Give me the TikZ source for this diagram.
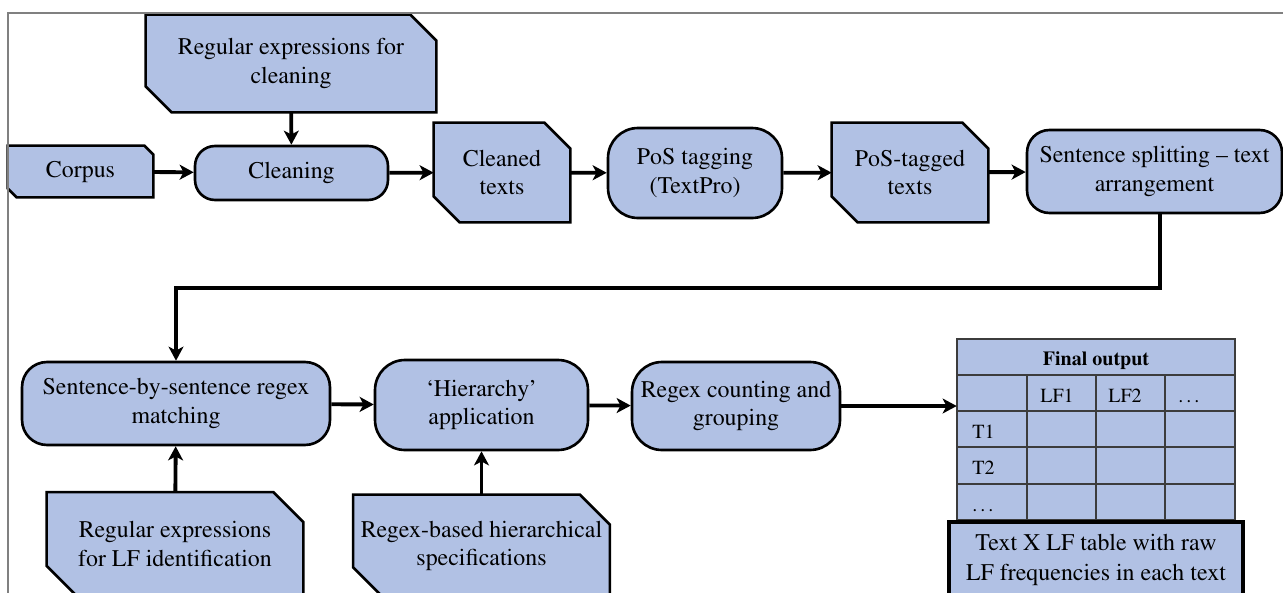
\documentclass[tikz,border=0pt]{standalone}
\usepackage[T1]{fontenc}
\usepackage{times}
\usetikzlibrary{arrows.meta,backgrounds}

\definecolor{boxblue}{RGB}{177,193,228}
\definecolor{framegray}{RGB}{128,128,128}
\definecolor{gridgray}{RGB}{60,60,60}

\tikzset{
  procbox/.style={draw, line width=1.5pt, fill=boxblue, rounded corners=#1,
    align=center, inner sep=0pt, font=\fontsize{13.6}{16.4}\selectfont},
  procbox/.default=0.55cm,
  databox/.style={align=center, inner sep=0pt, font=\fontsize{13.6}{16.4}\selectfont},
  snipline/.style={draw, line width=1.5pt, fill=boxblue, line join=miter},
  capbox/.style={draw, line width=2.2pt, fill=boxblue, align=center, inner sep=0pt,
    font=\fontsize{13.6}{16.8}\selectfont},
  cell/.style={inner sep=0pt, font=\fontsize{11.4}{13}\selectfont},
  gridline/.style={gridgray, line width=1pt},
  arr/.style={line width=2.2pt, -{Stealth[length=8pt,width=8.5pt,inset=2.2pt]}},
}

\begin{document}
\begin{tikzpicture}[x=0.02cm, y=-0.02cm]
        \useasboundingbox (0,0) rectangle (1283,592);
        \clip (0,0) rectangle (1283,592);

        % frame
        \draw[framegray, line width=1.2pt] (8,600) -- (8,13) -- (1290,13);

        % first row
        \node[databox] (regclean) at (291,63.5) [minimum width=5.8cm, minimum height=1.94cm]
            {Regular expressions for\\cleaning};
        \node[databox] (corpus) at (80.5,171.5) [minimum width=2.9cm, minimum height=1.02cm]
            {Corpus};
        \node[procbox=0.4cm] (cleaning) at (291.5,173) [minimum width=3.86cm, minimum height=1.08cm]
            {Cleaning};
        \node[databox] (cleaned) at (502,172.5) [minimum width=2.72cm, minimum height=1.98cm]
            {Cleaned\\texts};
        \node[procbox=0.6cm] (postag) at (695,173) [minimum width=3.48cm, minimum height=1.8cm]
            {PoS tagging\\(TextPro)};
        \node[databox] (postagged) at (910,172.5) [minimum width=3.12cm, minimum height=1.98cm]
            {PoS-tagged\\texts};
        \node[procbox=0.45cm] (split) at (1154.5,171.5) [minimum width=5.1cm, minimum height=1.66cm]
            {Sentence splitting -- text\\arrangement};

        % second row
        \node[procbox=0.5cm] (sbs) at (176,403.5) [minimum width=6.16cm, minimum height=1.66cm]
            {Sentence-by-sentence regex\\matching};
        \node[databox] (reglf) at (175,544) [minimum width=5.12cm, minimum height=2.06cm]
            {Regular expressions\\for LF identification};
        \node[procbox=0.6cm] (hier) at (481.5,405) [minimum width=4.26cm, minimum height=1.8cm]
            {`Hierarchy'\\application};
        \node[databox] (regspec) at (481.5,546) [minimum width=5.12cm, minimum height=2.04cm]
            {Regex-based hierarchical\\specifications};
        \node[procbox=0.6cm] (count) at (736,406) [minimum width=4.16cm, minimum height=1.76cm]
            {Regex counting and\\grouping};

        % snipped outlines of the data boxes
        \begin{scope}[on background layer]
            \foreach \n/\c in {regclean/26,corpus/9,cleaned/26,postagged/26,reglf/30,regspec/30}
                \filldraw[snipline] ([xshift=-\c*0.02cm]\n.north east) -- ([yshift=-\c*0.02cm]\n.north east)
                    -- (\n.south east) -- ([xshift=\c*0.02cm]\n.south west)
                    -- ([yshift=\c*0.02cm]\n.south west) -- (\n.north west) -- cycle;
        \end{scope}

        % output table
        \node[fill=boxblue, inner sep=0pt, minimum width=5.56cm, minimum height=3.62cm] (out) at (1096,429.5) {};
        \foreach \y in {375,411,447,484}
            \draw[gridline] (957,\y) -- (1235,\y);
        \foreach \x in {1027,1096,1165}
            \draw[gridline] (\x,375) -- (\x,520);
        \draw[gridline] (out.north west) rectangle (out.south east);
        \node[cell, anchor=base] (fo) at (1096,365) {\bfseries Final output};
        \node[cell, anchor=base west] (lf1) at (1040,402) {LF1};
        \node[cell, anchor=base west] (lf2) at (1108,402) {LF2};
        \node[cell, anchor=base west] (lfx) at (1178,402) {\dots};
        \node[cell, anchor=base west] (t1) at (972,438) {T1};
        \node[cell, anchor=base west] (t2) at (972,474) {T2};
        \node[cell, anchor=base west] (tx) at (972,511) {\dots};
        \node[capbox] (cap) at (1096,560) [minimum width=5.88cm, minimum height=1.52cm]
            {Text X LF table with raw\\LF frequencies in each text};

        % connectors
        \draw[arr] (regclean) -- (cleaning);
        \draw[arr] (corpus) -- (cleaning);
        \draw[arr] (cleaning) -- (cleaned);
        \draw[arr] (cleaned) -- (postag);
        \draw[arr] (postag) -- (postagged);
        \draw[arr] (postagged) -- (split);
        \coordinate (bend) at (1160,288);
        \draw[arr] (split.south -| bend) -- (bend) -| (sbs.north);
        \draw[arr] (reglf) -- (sbs);
        \draw[arr] (sbs) -- (hier);
        \draw[arr] (regspec) -- (hier);
        \draw[arr] (hier) -- (count);
        \draw[arr] (count.east) -- (count.east -| out.west);
    \end{tikzpicture}
\end{document}
